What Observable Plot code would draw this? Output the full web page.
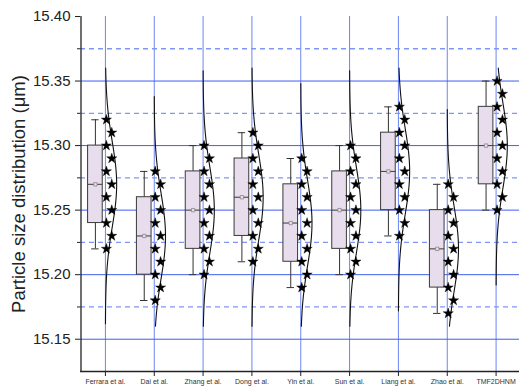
<!DOCTYPE html>
<html>
<head>
<meta charset="utf-8">
<script src="https://cdn.jsdelivr.net/npm/d3@7"></script>
<script src="https://cdn.jsdelivr.net/npm/@observablehq/plot@0.6"></script>
<style>
  html, body { margin: 0; padding: 0; background: #fff; }
  #chart svg { display: block; }
</style>
</head>
<body>
<div id="chart"></div>
<script>
const categories = ["Ferrara et al.", "Dai et al.", "Zhang et al.", "Dong et al.", "Yin et al.", "Sun et al.", "Liang et al.", "Zhao et al.", "TMF2DHNM"];

const ferrara = [15.32, 15.31, 15.30, 15.29, 15.28, 15.27, 15.26, 15.25, 15.24, 15.23, 15.22];
const dai     = [15.28, 15.27, 15.26, 15.25, 15.24, 15.23, 15.22, 15.21, 15.20, 15.19, 15.18];
const zhang   = [15.30, 15.29, 15.28, 15.27, 15.26, 15.25, 15.24, 15.23, 15.22, 15.21, 15.20];
const dong    = [15.31, 15.30, 15.29, 15.28, 15.27, 15.26, 15.25, 15.24, 15.23, 15.22, 15.21];
const yin     = [15.29, 15.28, 15.27, 15.26, 15.25, 15.24, 15.23, 15.22, 15.21, 15.20, 15.19];
const sun     = [15.30, 15.29, 15.28, 15.27, 15.26, 15.25, 15.24, 15.23, 15.22, 15.21, 15.20];
const liang   = [15.33, 15.32, 15.31, 15.30, 15.29, 15.28, 15.27, 15.26, 15.25, 15.24, 15.23];
const zhao    = [15.27, 15.26, 15.25, 15.24, 15.23, 15.22, 15.21, 15.20, 15.19, 15.18, 15.17];
const tmf     = [15.35, 15.34, 15.33, 15.32, 15.31, 15.30, 15.29, 15.28, 15.27, 15.26, 15.25];

const series = [ferrara, dai, zhang, dong, yin, sun, liang, zhao, tmf];

const majorTicks = [15.15, 15.20, 15.25, 15.30, 15.35, 15.40];
const minorTicks = [15.175, 15.225, 15.275, 15.325, 15.375];
const gridMajor = [15.15, 15.20, 15.25, 15.30, 15.35];

// (n+1)p quartile method
function quant(sorted, p) {
  const n = sorted.length;
  let h = (n + 1) * p - 1;
  h = Math.max(0, Math.min(n - 1, h));
  const lo = Math.floor(h), hi = Math.ceil(h);
  return sorted[lo] + (h - lo) * (sorted[hi] - sorted[lo]);
}

const stats = series.map((vals, i) => {
  const s = vals.slice().sort(d3.ascending);
  return {
    i,
    min: s[0], max: s[s.length - 1],
    q1: quant(s, 0.25), q3: quant(s, 0.75), med: quant(s, 0.5),
    mean: d3.mean(s), sd: d3.deviation(s)
  };
});

const points = series.flatMap((vals, i) => vals.map((v, k) => ({i, k, v})));

// Normal distribution curves
const curves = stats.flatMap(st => {
  const lo = Math.max(15.16, st.mean - 0.108);
  const hi = Math.min(15.36, st.mean + 0.108);
  const n = 120;
  const arr = [];
  for (let j = 0; j <= n; j++) {
    const y = lo + (hi - lo) * j / n;
    const z = (y - st.mean) / st.sd;
    arr.push({i: st.i, y, w: Math.exp(-z * z / 2)});
  }
  return arr;
});

// layout constants (in x-scale units, 1 unit = one category step)
const BOX_L = -0.355, BOX_R = -0.055, BOX_C = -0.205, CAP = 0.076;
const AMP = 0.23;

const chart = Plot.plot({
  width: 519,
  height: 392,
  marginTop: 16,
  marginBottom: 21,
  marginLeft: 80,
  marginRight: 0,
  style: {fontFamily: "'Liberation Sans', Arial, sans-serif", background: "#fff", color: "#222"},
  x: {domain: [-0.5, 8.5], range: [80.5, 520]},
  y: {domain: [15.125, 15.40]},
  marks: [
    // grid
    Plot.ruleX(d3.range(categories.length), {stroke: "#6c86f2", strokeWidth: 1}),
    Plot.ruleY(gridMajor, {stroke: "#3f5ff0", strokeWidth: 1}),
    Plot.ruleY(minorTicks, {stroke: "#8096f4", strokeWidth: 1.3, strokeDasharray: "5,4"}),
    // boxes
    Plot.ruleX(stats, {x: d => d.i + BOX_C, y1: "min", y2: "q1", stroke: "#333", strokeWidth: 1}),
    Plot.ruleX(stats, {x: d => d.i + BOX_C, y1: "q3", y2: "max", stroke: "#333", strokeWidth: 1}),
    Plot.ruleY(stats, {y: "max", x1: d => d.i + BOX_C - CAP, x2: d => d.i + BOX_C + CAP, stroke: "#333", strokeWidth: 1}),
    Plot.ruleY(stats, {y: "min", x1: d => d.i + BOX_C - CAP, x2: d => d.i + BOX_C + CAP, stroke: "#333", strokeWidth: 1}),
    Plot.rect(stats, {x1: d => d.i + BOX_L, x2: d => d.i + BOX_R, y1: "q1", y2: "q3", fill: "#e7ddec", stroke: "#3a3a3a", strokeWidth: 1}),
    Plot.ruleY(stats, {y: "med", x1: d => d.i + BOX_L, x2: d => d.i + BOX_R, stroke: "#3a3a3a", strokeWidth: 1}),
    Plot.dot(stats, {x: d => d.i + BOX_C, y: "mean", symbol: "square", r: 1.9, stroke: "#888", fill: "#e7ddec", strokeWidth: 0.8}),
    // distribution curves
    Plot.line(curves, {x: d => d.i + AMP * d.w, y: "y", z: "i", stroke: "#111", strokeWidth: 1.1}),
    // data points
    Plot.dot(points, {x: d => d.i + (d.k % 2 ? 0.13 : 0.02), y: "v", symbol: "star", r: 3.2, fill: "#000", stroke: "#000", strokeWidth: 0.4}),
    // axis lines
    Plot.ruleX([-0.5], {x: () => -0.5, stroke: "#222", strokeWidth: 1.3}),
    Plot.ruleY([15.125], {stroke: "#222", strokeWidth: 1.3}),
    // axes
    Plot.axisY({ticks: majorTicks, tickSize: 5, tickPadding: 5, tickFormat: d3.format(".2f"), fontSize: 15, label: null}),
    Plot.axisY({ticks: minorTicks, tickSize: 3, tickFormat: () => "", label: null}),
    Plot.axisX({ticks: d3.range(categories.length), tickSize: 5, tickPadding: 3, tickFormat: i => categories[i], fontSize: 7, label: null, fill: "#333"}),
    Plot.text(["Particle size distribution (μm)"], {frameAnchor: "left", textAnchor: "middle", dx: -61, rotate: -90, fontSize: 18.5, fill: "#222"})
  ]
});

document.getElementById("chart").appendChild(chart);
</script>
</body>
</html>
